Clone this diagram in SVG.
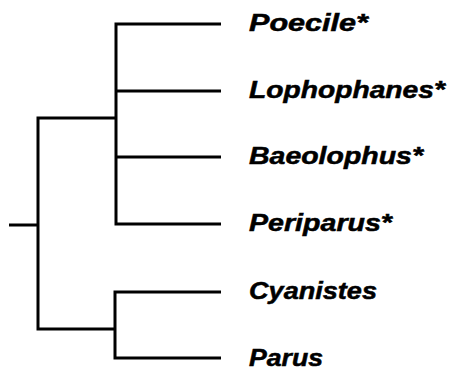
<svg xmlns="http://www.w3.org/2000/svg" width="449" height="379" viewBox="0 0 449 379">
<style>
.br{fill:none;stroke:#000;stroke-width:3;stroke-linejoin:miter;stroke-linecap:butt}
.lb{font-family:"Liberation Sans",Arial,sans-serif;font-weight:bold;font-style:italic;font-size:23px;fill:#000;stroke:#000;stroke-width:0.5}
</style>
<rect width="449" height="379" fill="#fff"/>
<g id="connectors">
<path class="br" d="M9,225 H38"/>
<path class="br" d="M116,118 H38 V329 H115"/>
<path class="br" d="M221,24 H116 V224 H221"/>
<path class="br" d="M116,91 H221"/>
<path class="br" d="M116,157 H221"/>
<path class="br" d="M221,292 H115 V358 H221"/>
</g>
<g id="poecile"><text class="lb" x="249" y="31" textLength="119" lengthAdjust="spacingAndGlyphs">Poecile*</text></g>
<g id="lophophanes"><text class="lb" x="249" y="98" textLength="196" lengthAdjust="spacingAndGlyphs">Lophophanes*</text></g>
<g id="baeolophus"><text class="lb" x="249" y="164" textLength="174" lengthAdjust="spacingAndGlyphs">Baeolophus*</text></g>
<g id="periparus"><text class="lb" x="249" y="231" textLength="143" lengthAdjust="spacingAndGlyphs">Periparus*</text></g>
<g id="cyanistes"><text class="lb" x="249" y="299" textLength="128" lengthAdjust="spacingAndGlyphs">Cyanistes</text></g>
<g id="parus"><text class="lb" x="249" y="366" textLength="74" lengthAdjust="spacingAndGlyphs">Parus</text></g>
</svg>
